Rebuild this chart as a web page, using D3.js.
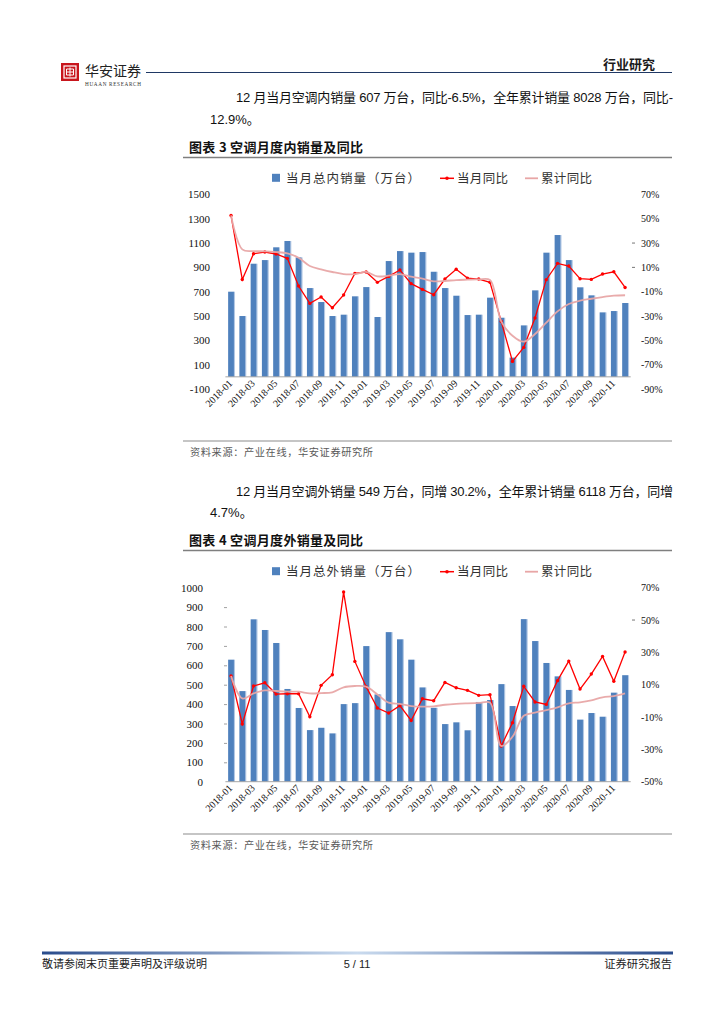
<!DOCTYPE html>
<html><head><meta charset="utf-8">
<script src="https://cdn.jsdelivr.net/npm/d3@7/dist/d3.min.js"></script>
<style>
html,body{margin:0;padding:0;background:#fff;}
svg{display:block;}
</style></head><body>
<svg id="page" width="724" height="1024"></svg>
<script>
// ---------- DATA ----------
const months = [
 "2018-01","2018-02","2018-03","2018-04","2018-05","2018-06","2018-07","2018-08","2018-09","2018-10","2018-11","2018-12",
 "2019-01","2019-02","2019-03","2019-04","2019-05","2019-06","2019-07","2019-08","2019-09","2019-10","2019-11","2019-12",
 "2020-01","2020-02","2020-03","2020-04","2020-05","2020-06","2020-07","2020-08","2020-09","2020-10","2020-11","2020-12"];
const tickMonths = months.filter((m,i)=>i%2===0);

// Chart 3: domestic sales (万台), monthly YoY %, cumulative YoY %
const domSales = [700,500,930,960,1065,1117,982,730,615,500,511,662,
                  738,492,952,1034,1021,1026,864,730,667,508,511,651,
                  486,158,423,711,1021,1166,960,736,670,530,541,607];
const domYoY   = [52.7,0,21.2,22.6,21,17.4,-5.3,-19.6,-14.4,-23.2,-12.7,5.1,
                  6.2,-2.3,2.6,7.8,-3.4,-8.1,-12.5,0.4,8.4,1.2,0.4,-2.3,
                  -34.4,-67.3,-55.8,-31.6,-0.1,13.3,11.1,0.7,0.1,4.5,6.4,-6.5];
const domCum   = [52.7,24.8,23.4,23.2,22.6,21.5,17.9,11.1,8.4,6.2,4.5,4.5,
                  6.2,2.6,3.2,4.5,2.3,0.7,-1.5,-1.2,-0.4,-0.1,0.1,-0.4,
                  -34.4,-46.2,-51.1,-44.8,-35.5,-26.2,-20.1,-17.4,-15.8,-14.4,-13.3,-12.9];
const domLeftTicks  = [-100,100,300,500,700,900,1100,1300,1500];
const domRightTicks = [-90,-70,-50,-30,-10,10,30,50,70];

// Chart 4: export sales (万台), monthly YoY %, cumulative YoY %
const expSales = [629,467,837,782,715,478,380,266,278,249,400,405,
                  699,450,771,734,629,486,381,297,306,265,411,421,
                  503,390,838,725,612,543,473,320,354,335,459,549];
const expYoY   = [15.4,-14.3,9.2,11.2,4.2,4.4,4.4,-9.8,9.6,16.2,67.3,24.4,
                  8.8,-4.4,-7.5,-3.0,-12.1,1.3,0.1,11.4,8.1,6.5,3.4,3.8,
                  -27.9,-13.5,9.0,-0.7,-2.2,12.5,24.6,7.3,16.6,27.5,12.1,30.2];
const expCum   = [15.4,1.5,4.6,6.5,6.1,5.7,5.7,4.6,4.8,5.3,8.4,9.2,
                  8.8,4.0,-1.1,-1.8,-3.2,-3.6,-3.4,-2.4,-1.8,-1.5,-1.3,-1.1,
                  -27.9,-22.2,-9.2,-7.3,-5.7,-4.0,-1.5,-0.9,0.3,2.2,3.0,4.7];
const expLeftTicks  = [0,100,200,300,400,500,600,700,800,900,1000];
const expRightTicks = [-50,-30,-10,10,30,50,70];

const legendDom = ["当月总内销量（万台）","当月同比","累计同比"];
const legendExp = ["当月总外销量（万台）","当月同比","累计同比"];

// ---------- PAGE ----------
const svg = d3.select("#page");
const CJK = '"Noto Sans CJK SC","Noto Sans",sans-serif';
const SERIF = '"Liberation Serif","DejaVu Serif",serif';
const SANS = '"Liberation Sans",Arial,sans-serif';
const plain = v => String(v).replace("\u2212","-");

// header
const logo = svg.append("g");
logo.append("rect").attr("x",61).attr("y",63).attr("width",18).attr("height",18).attr("fill","#C8161D");
logo.append("rect").attr("x",64).attr("y",66).attr("width",12).attr("height",12).attr("fill","none").attr("stroke","#fff").attr("stroke-width",1.2);
logo.append("path").attr("d","M66,72 H74 M70,67.5 V76.5 M66.5,69 H73.5 V75 H66.5 Z").attr("fill","none").attr("stroke","#fff").attr("stroke-width",1);
svg.append("text").attr("x",85).attr("y",76).attr("font-family",CJK).attr("font-size",14).attr("font-weight",400)
  .attr("fill","#222").attr("textLength",56).text("华安证券");
svg.append("text").attr("x",85).attr("y",86).attr("font-family",SERIF).attr("font-size",5.2)
  .attr("fill","#333").attr("textLength",56).text("HUAAN RESEARCH");
svg.append("line").attr("x1",146).attr("x2",672).attr("y1",72.5).attr("y2",72.5).attr("stroke","#1F3864").attr("stroke-width",1.2);
svg.append("text").attr("x",655).attr("y",69).attr("text-anchor","end").attr("font-family",CJK).attr("font-size",13)
  .attr("font-weight",700).attr("fill","#1a1a1a").text("行业研究");

function para(x,y,txt,len){
  const t = svg.append("text").attr("x",x).attr("y",y).attr("font-family",SANS+","+CJK).attr("font-size",13).attr("fill","#111").text(txt);
  if(len) t.attr("textLength",len).attr("lengthAdjust","spacing");
}
para(236,102,"12 月当月空调内销量 607 万台，同比-6.5%，全年累计销量 8028 万台，同比-",437);
para(210,124,"12.9%。");
para(236,496,"12 月当月空调外销量 549 万台，同增 30.2%，全年累计销量 6118 万台，同增",437);
para(210,517,"4.7%。");

function title(y,txt){
  svg.append("text").attr("x",189).attr("y",y).attr("font-family",CJK).attr("font-size",13).attr("font-weight",700)
    .attr("fill","#111").attr("textLength",174).attr("lengthAdjust","spacing").text(txt);
}
title(152,"图表 3 空调月度内销量及同比");
title(545,"图表 4 空调月度外销量及同比");
function hline(y,w,c){ svg.append("line").attr("x1",183).attr("x2",672).attr("y1",y).attr("y2",y).attr("stroke",c).attr("stroke-width",w); }
hline(157.5,1.6,"#7f7f7f"); hline(441,1.2,"#8c8c8c");
hline(550.5,1.6,"#7f7f7f"); hline(834,1.2,"#8c8c8c");
function source(y){
  svg.append("text").attr("x",190).attr("y",y).attr("font-family",CJK).attr("font-size",10.2).attr("fill","#595959")
    .attr("textLength",183).attr("lengthAdjust","spacing").text("资料来源：产业在线，华安证券研究所");
}
source(455.5); source(848.5);

// footer
const grad = svg.append("defs").append("linearGradient").attr("id","fg").attr("x1","0%").attr("x2","100%");
grad.append("stop").attr("offset","0%").attr("stop-color","#2A4C8C");
grad.append("stop").attr("offset","50%").attr("stop-color","#C9DAEE");
grad.append("stop").attr("offset","100%").attr("stop-color","#2A4C8C");
svg.append("rect").attr("x",42).attr("y",951.5).attr("width",631).attr("height",3).attr("fill","url(#fg)");
svg.append("text").attr("x",42).attr("y",968).attr("font-family",CJK).attr("font-size",11).attr("fill","#222")
  .attr("textLength",165).attr("lengthAdjust","spacing").text("敬请参阅末页重要声明及评级说明");
svg.append("text").attr("x",357).attr("y",968).attr("text-anchor","middle").attr("font-family",SANS).attr("font-size",11).attr("fill","#222").text("5 / 11");
svg.append("text").attr("x",672).attr("y",968).attr("text-anchor","end").attr("font-family",CJK).attr("font-size",11.3).attr("fill","#222").text("证券研究报告");

// ---------- CHART ----------
function chart(o){
  const g = svg.append("g");
  const x = d3.scaleBand().domain(months).range([225.4,630.7]).padding(0);
  const yL = d3.scaleLinear().domain(o.lDom).range([o.bottom,o.top]);
  const yR = d3.scaleLinear().domain(o.rDom).range([o.bottom,o.top]);
  const bw = 5.8, ew = 1.3;
  const cx = m => x(m)+x.bandwidth()/2;

  // left axis labels
  const la = d3.axisLeft(yL).tickValues(o.lTicks).tickSize(o.lTickMarks?3:0).tickPadding(o.lTickMarks?9:6)
    .tickFormat(d=>plain(d3.format("d")(d)));
  const gl = g.append("g").attr("transform",`translate(${o.lx},0)`).call(la);
  gl.select(".domain").remove();
  gl.selectAll(".tick line").attr("stroke","#a0a0a0").attr("transform","translate(12,0)")
    .attr("opacity",(d)=> (d>o.lTicks[0] && d<o.lTicks[o.lTicks.length-1])?1:0);
  gl.selectAll("text").attr("font-family",SERIF).attr("font-size",11).attr("fill","#111");

  // right axis labels
  const ra = d3.axisRight(yR).tickValues(o.rTicks).tickSize(0).tickPadding(0).tickFormat(d=>plain(d3.format("d")(d))+"%");
  const gr = g.append("g").attr("transform",`translate(641,0)`).call(ra);
  gr.select(".domain").remove();
  gr.selectAll("text").attr("font-family",SERIF).attr("font-size",10).attr("fill","#111");
  g.selectAll(".rtick").data(o.rMarks).join("line").attr("class","rtick")
    .attr("x1",632).attr("x2",635).attr("y1",d=>yR(d)).attr("y2",d=>yR(d)).attr("stroke","#777").attr("stroke-width",1);

  // bars
  const bars = g.append("g");
  bars.selectAll("rect.edge").data(o.sales).join("rect").attr("class","edge")
    .attr("x",(d,i)=>cx(months[i])-bw/2+bw-0.2).attr("width",ew)
    .attr("y",d=>yL(d)).attr("height",d=>yL(0)-yL(d)).attr("fill","#B3C8E4");
  bars.selectAll("rect.main").data(o.sales).join("rect").attr("class","main")
    .attr("x",(d,i)=>cx(months[i])-bw/2).attr("width",bw)
    .attr("y",d=>yL(d)).attr("height",d=>yL(0)-yL(d)).attr("fill","#4F81BD");

  // x axis line at 0
  g.append("line").attr("x1",225.4).attr("x2",630.7).attr("y1",yL(0)).attr("y2",yL(0)).attr("stroke","#a6a6a6").attr("stroke-width",1);

  // x labels
  const xa = d3.axisBottom(x).tickValues(tickMonths).tickSize(0).tickPadding(0);
  const gx = g.append("g").attr("transform",`translate(0,${yL(0)})`).call(xa);
  gx.select(".domain").remove();
  gx.selectAll("text").attr("font-family",SERIF).attr("font-size",10).attr("fill","#111")
    .attr("text-anchor","end").attr("dy",0).attr("transform","translate(2,7) rotate(-45)");

  // monthly YoY (red, markers)
  const lineRed = d3.line().x((d,i)=>cx(months[i])).y(d=>yR(d));
  g.append("path").datum(o.yoy).attr("d",lineRed).attr("fill","none").attr("stroke","#FF0000").attr("stroke-width",1.3);
  g.selectAll("circle.mk").data(o.yoy).join("circle").attr("class","mk")
    .attr("cx",(d,i)=>cx(months[i])).attr("cy",d=>yR(d)).attr("r",1.7).attr("fill","#FF0000");

  // cumulative YoY (pink, smooth)
  const linePink = d3.line().x((d,i)=>cx(months[i])).y(d=>yR(d)).curve(d3.curveCatmullRom.alpha(0.5));
  g.append("path").datum(o.cum).attr("d",linePink).attr("fill","none").attr("stroke","#E8A6A6").attr("stroke-width",1.8).attr("opacity",0.95);

  // legend
  const ly = o.legendY;
  const lg = g.append("g");
  lg.append("rect").attr("x",272).attr("y",ly-4.5).attr("width",8).attr("height",8).attr("fill","#4F81BD");
  lg.append("text").attr("x",286).attr("y",ly+4.5).attr("font-family",CJK).attr("font-size",12.5).attr("fill","#333")
    .attr("textLength",134).text(o.legend[0]);
  lg.append("line").attr("x1",440).attr("x2",454).attr("y1",ly).attr("y2",ly).attr("stroke","#FF0000").attr("stroke-width",1.5);
  lg.append("circle").attr("cx",447).attr("cy",ly).attr("r",1.8).attr("fill","#FF0000");
  lg.append("text").attr("x",457).attr("y",ly+4.5).attr("font-family",CJK).attr("font-size",12.5).attr("fill","#333")
    .attr("textLength",51).text(o.legend[1]);
  lg.append("line").attr("x1",525).attr("x2",538).attr("y1",ly).attr("y2",ly).attr("stroke","#E8A6A6").attr("stroke-width",1.8);
  lg.append("text").attr("x",541).attr("y",ly+4.5).attr("font-family",CJK).attr("font-size",12.5).attr("fill","#333")
    .attr("textLength",51).text(o.legend[2]);
}

chart({sales:domSales,yoy:domYoY,cum:domCum,lDom:[-100,1500],rDom:[-90,70],
  lTicks:domLeftTicks,rTicks:domRightTicks,rMarks:[10,30],lTickMarks:false,
  top:194.4,bottom:389,lx:216,legendY:178.3,legend:legendDom});
chart({sales:expSales,yoy:expYoY,cum:expCum,lDom:[0,1000],rDom:[-50,70],
  lTicks:expLeftTicks,rTicks:expRightTicks,rMarks:[50],lTickMarks:true,
  top:587.7,bottom:781.7,lx:215,legendY:571.7,legend:legendExp});
</script>
</body></html>
